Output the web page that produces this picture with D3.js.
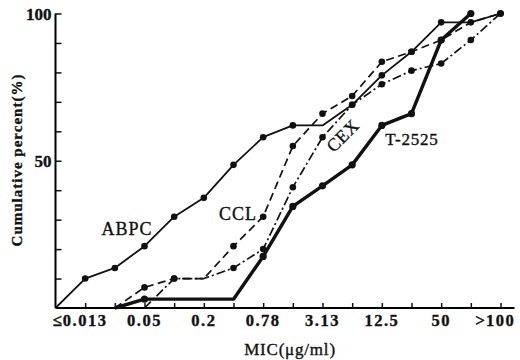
<!DOCTYPE html>
<html>
<head>
<meta charset="utf-8">
<script src="https://cdn.jsdelivr.net/npm/d3@7"></script>
<style>
  body { margin: 0; background: #fff; }
  text { font-family: "Liberation Serif", "DejaVu Serif", serif; fill: #111; stroke: #111; stroke-width: 0.35px; }
</style>
</head>
<body>
<div id="chart"></div>
<script>
// MIC dilution steps, position 0 is the axis origin
const micLevels = ["", "≤0.013", "0.025", "0.05", "0.1", "0.2", "0.39", "0.78", "1.56",
  "3.13", "6.25", "12.5", "25", "50", "100", ">100"];
const labeledLevels = ["≤0.013", "0.05", "0.2", "0.78", "3.13", "12.5", "50", ">100"];
const yTicks = [10, 20, 30, 40, 50, 60, 70, 80, 90, 100];
const yLabels = [50, 100];

// cumulative percent at each dilution step (null = not plotted)
const abpc  = [0, 10, 13.6, 21, 31, 37.4, 48.6, 58, 62, 62, 69, 79, 87, 97, 97, 100];
const ccl   = [null, null, 0, 7, 10, 10, 21, 31, 55, 66, 72, 83.6, 87, 91, 97, 100];
const cex   = [null, null, null, 0, 10, 10, 13.6, 20, 41, 58, 69, 76, 80.6, 83, 91, 100];
const t2525 = [null, null, 0, 3, 3, 3, 3, 17.5, 34.5, 41.5, 48.6, 62, 66, 91, 100, null];

const width = 520, height = 360;
const x0 = 55.5, x1 = 500.5, yBottom = 308, yTop = 13.5;

const svg = d3.select("#chart").append("svg")
  .attr("width", width)
  .attr("height", height);

const x = d3.scaleLinear().domain([0, micLevels.length - 1]).range([x0, x1]);
const y = d3.scaleLinear().domain([0, 100]).range([yBottom, yTop]);

// axes: ticks point inward
svg.append("g")
  .attr("transform", `translate(0,${yBottom})`)
  .call(d3.axisTop(x).tickValues(d3.range(1, micLevels.length)).tickSize(5).tickFormat(""))
  .call(g => g.select(".domain").attr("d", `M${x0},0H${x1 + 14}`).attr("stroke-width", 2));

svg.append("g")
  .attr("transform", `translate(${x0},0)`)
  .call(d3.axisRight(y).tickValues(yTicks).tickSize(6).tickFormat(""))
  .call(g => g.select(".domain").attr("d", `M0,${yBottom}V${yTop}`).attr("stroke-width", 2));

svg.selectAll(".tick line").attr("stroke", "#111").attr("stroke-width", 1.5);

// y labels
svg.selectAll(".ylab")
  .data(yLabels)
  .enter().append("text")
  .attr("x", x0 - 4)
  .attr("y", d => y(d) + 6)
  .attr("text-anchor", "end")
  .attr("font-size", 17)
  .attr("font-weight", "bold")
  .text(d => d);

// x labels: number centered on the tick, sign prefix hangs to the left
labeledLevels.forEach(lab => {
  const i = micLevels.indexOf(lab);
  const m = lab.match(/^([≤>]?)(.*)$/);
  const t = svg.append("text")
    .attr("x", x(i))
    .attr("y", 326)
    .attr("text-anchor", "middle")
    .attr("font-size", 16.5)
    .attr("letter-spacing", 1.5)
    .attr("font-weight", "bold")
    .text(m[2]);
  if (m[1]) {
    const w = t.node().getComputedTextLength();
    svg.append("text")
      .attr("x", x(i) - w / 2 - 1)
      .attr("y", 326)
      .attr("text-anchor", "end")
      .attr("font-size", 17)
      .attr("font-weight", "bold")
      .text(m[1]);
  }
});

svg.append("text")
  .attr("x", 290)
  .attr("y", 355)
  .attr("text-anchor", "middle")
  .attr("font-size", 17)
  .attr("letter-spacing", 0.8)
  .text("MIC(μg/ml)");

svg.append("text")
  .attr("transform", "translate(22,160) rotate(-90)")
  .attr("text-anchor", "middle")
  .attr("font-size", 15)
  .attr("font-weight", "bold")
  .attr("letter-spacing", 1)
  .text("Cumulative percent(%)");

const series = [
  { name: "ABPC", values: abpc, width: 1.8, dash: null },
  { name: "CCL", values: ccl, width: 1.7, dash: "8,4.5" },
  { name: "CEX", values: cex, width: 1.7, dash: "9,3,2,3" },
  { name: "T-2525", values: t2525, width: 3.4, dash: null }
];

const line = d3.line()
  .defined(d => d[1] != null)
  .x(d => x(d[0]))
  .y(d => y(d[1]));

series.forEach(s => {
  const pts = s.values.map((v, i) => [i, v]);
  svg.append("path")
    .datum(pts)
    .attr("fill", "none")
    .attr("stroke", "#111")
    .attr("stroke-width", s.width)
    .attr("stroke-dasharray", s.dash)
    .attr("stroke-linejoin", "round")
    .attr("d", line);
  // a dot marks each step where the cumulative percent rises
  svg.selectAll(null)
    .data(pts.filter((d, i) => d[1] != null && i > 0 && s.values[i - 1] != null && d[1] > s.values[i - 1]))
    .enter().append("circle")
    .attr("cx", d => x(d[0]))
    .attr("cy", d => y(d[1]))
    .attr("r", s.width > 3 ? 3.6 : 3.3)
    .attr("fill", "#111");
});

// line labels
svg.append("text").attr("x", 127).attr("y", 235).attr("text-anchor", "middle")
  .attr("font-size", 18).attr("letter-spacing", 1).text("ABPC");
svg.append("text").attr("x", 238).attr("y", 220).attr("text-anchor", "middle")
  .attr("font-size", 18).attr("letter-spacing", 1).text("CCL");
svg.append("text").attr("transform", "translate(347,140) rotate(-45)").attr("text-anchor", "middle")
  .attr("font-size", 18).attr("letter-spacing", 0.5).text("CEX");
svg.append("text").attr("x", 412).attr("y", 145).attr("text-anchor", "middle")
  .attr("font-size", 17).attr("letter-spacing", 0.8).text("T-2525");
</script>
</body>
</html>
